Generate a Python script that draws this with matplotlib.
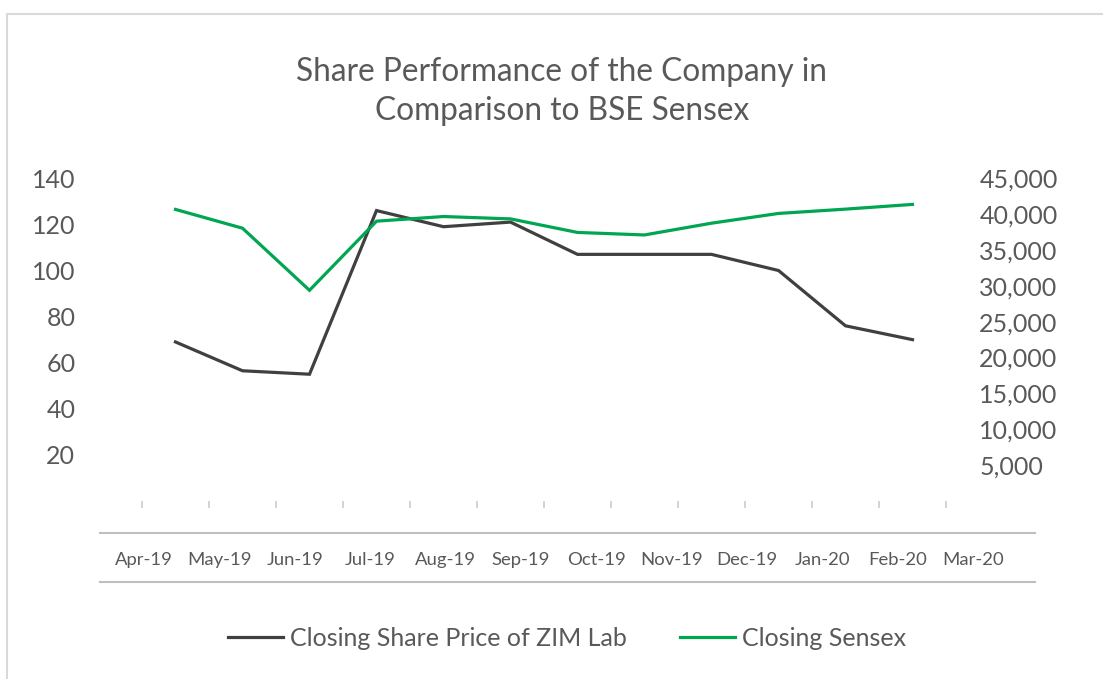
import matplotlib
matplotlib.use("Agg")
import matplotlib.pyplot as plt
from matplotlib.lines import Line2D
from matplotlib.patches import Rectangle
import matplotlib.transforms as mtrans
import numpy as np

# ---- data ----
months = ["Apr-19", "May-19", "Jun-19", "Jul-19", "Aug-19", "Sep-19",
          "Oct-19", "Nov-19", "Dec-19", "Jan-20", "Feb-20", "Mar-20"]
zim_price = [69, 56.5, 55, 126, 119, 121, 107, 107, 107, 100, 76, 70]
sensex = [40660, 38040, 29380, 39020, 39670, 39340, 37450, 37100, 38740, 40100, 40700, 41360]
left_ticks = [20, 40, 60, 80, 100, 120, 140]
right_ticks = [5000, 10000, 15000, 20000, 25000, 30000, 35000, 40000, 45000]

W, H = 1103, 679
TXT = "#595959"
GRAY = "#404040"
GREEN = "#00A651"
plt.rcParams['font.family'] = ['Lato', 'DejaVu Sans']

fig = plt.figure(figsize=(W / 100, H / 100), dpi=100)

def px(l, t, r, b):
    return [l / W, 1 - b / H, (r - l) / W, (b - t) / H]

# outer frame (left and top edges visible)
fig.patches.append(Rectangle((7 / W, -0.1), 1.2, 1 - 14 / H + 0.1, transform=fig.transFigure,
                             fill=False, edgecolor="#D9D9D9", linewidth=1.5))

# ---- main axes ----
ax = fig.add_axes(px(142, 178.3, 946, 501))
x = np.arange(len(months)) + 0.5
ax.plot(x, zim_price, color=GRAY, lw=2.3, solid_joinstyle='miter')
ax.set_xlim(0, len(months))
ax.set_ylim(0, 140)
ax.set_yticks(left_ticks)
ax.set_xticks(np.arange(len(months) + 1))
ax.set_xticklabels([])
for s in ax.spines.values():
    s.set_visible(False)
ax.tick_params(axis='x', length=5, width=1.3, color="#D0D0D0", direction='out', pad=0)
ax.tick_params(axis='y', length=0, pad=48, labelsize=18, labelcolor=TXT)

ax2 = ax.twinx()
ax2.plot(x, sensex, color=GREEN, lw=2.3, solid_joinstyle='miter')
ax2.set_ylim(0, 45000)
ax2.set_yticks(right_ticks)
ax2.set_yticklabels([f"{v:,}" for v in right_ticks])
for s in ax2.spines.values():
    s.set_visible(False)
ax2.tick_params(axis='y', length=0, pad=24, labelsize=18, labelcolor=TXT)

# ---- lower category band ----
axb = fig.add_axes(px(100, 533, 1035, 582))
axb.set_xlim(-44 / 75.36, 11 + 62 / 75.36)
axb.set_ylim(0, 1)
for side in ['left', 'right']:
    axb.spines[side].set_visible(False)
for side in ['top', 'bottom']:
    axb.spines[side].set_color("#BFBFBF")
    axb.spines[side].set_linewidth(1.5)
axb.set_xticks([])
axb.set_yticks([])
axb.patch.set_alpha(0)
tr = mtrans.blended_transform_factory(axb.transData, axb.transAxes)
for i, m in enumerate(months):
    axb.text(i, 0.45, m, transform=tr, ha='center', va='center', fontsize=13.3, color=TXT)

# ---- title ----
fig.text(562 / W, 1 - 72 / H, "Share Performance of the Company in", ha='center', va='center',
         fontsize=22.8, color=TXT)
fig.text(562 / W, 1 - 111 / H, "Comparison to BSE Sensex", ha='center', va='center',
         fontsize=22.8, color=TXT)

# ---- legend ----
handles = [Line2D([], [], color=GRAY, lw=2.3), Line2D([], [], color=GREEN, lw=2.3)]
fig.legend(handles, ["Closing Share Price of ZIM Lab", "Closing Sensex"],
           loc='center', bbox_to_anchor=(567 / W, 1 - 638 / H), ncol=2, frameon=False,
           fontsize=18, labelcolor=TXT, handlelength=2.2, handletextpad=0.3,
           columnspacing=2.1)

fig.savefig("out.png", dpi=100)
